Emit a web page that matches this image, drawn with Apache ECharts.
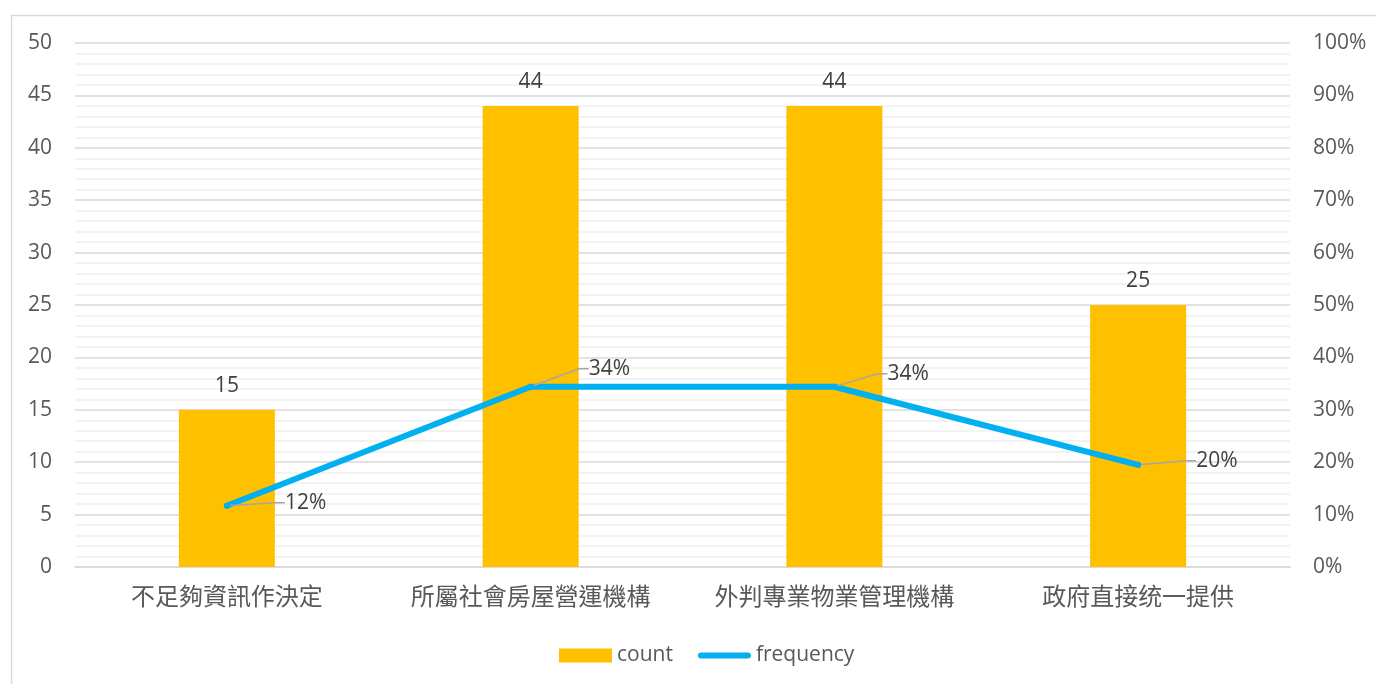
<!DOCTYPE html>
<html>
<head>
<meta charset="utf-8">
<script src="https://cdn.jsdelivr.net/npm/echarts@6/dist/echarts.min.js"></script>
<style>
html,body{margin:0;padding:0;background:#fff;}
#chart{width:1376px;height:684px;}
</style>
</head>
<body>
<div id="chart"></div>
<script>
const categories = ['不足夠資訊作決定', '所屬社會房屋營運機構', '外判專業物業管理機構', '政府直接统一提供'];
const countValues = [15, 44, 44, 25];
const frequencyValues = [0.117, 0.344, 0.344, 0.195];
const seriesNames = ['count', 'frequency'];

const FONT = "'Open Sans', 'Noto Sans CJK TC', sans-serif";
const TXT = '#595959';
const labelDx = [50, 50, 45, 50];
const labelDy = [-3, -18, -13, -4];

const chart = echarts.init(document.getElementById('chart'));
chart.setOption({
  animation: false,
  textStyle: { fontFamily: FONT },
  graphic: [{
    type: 'rect', left: 9, top: 13,
    shape: { width: 1420, height: 720 },
    style: { fill: 'none', stroke: '#d9d9d9', lineWidth: 1.5 },
    silent: true
  }],
  grid: { left: 75, right: 86, top: 43, bottom: 117 },
  legend: {
    top: 640, left: 554,
    itemGap: 25,
    itemWidth: 53, itemHeight: 14,
    textStyle: { color: TXT, fontSize: 21, fontFamily: FONT },
    data: [
      { name: seriesNames[0], icon: 'rect' },
      { name: seriesNames[1], icon: 'path://M3,0 H50 A3,3 0 0 1 50,6 H3 A3,3 0 0 1 3,0 Z', itemStyle: { color: '#00B0F0' } }
    ]
  },
  xAxis: {
    type: 'category',
    data: categories,
    axisLine: { lineStyle: { color: '#d9d9d9', width: 1.5 } },
    axisTick: { show: false },
    axisLabel: { color: TXT, fontSize: 24, margin: 19, fontFamily: FONT, interval: 0 }
  },
  yAxis: [{
    type: 'value', min: 0, max: 50, interval: 5,
    axisLine: { show: false }, axisTick: { show: false },
    axisLabel: { color: TXT, fontSize: 21, margin: 23, fontFamily: FONT },
    splitLine: { lineStyle: { color: '#d9d9d9', width: 1.5 } },
    minorTick: { show: false, splitNumber: 5 },
    minorSplitLine: { show: true, lineStyle: { color: '#f0f0f0', width: 1.5 } }
  }, {
    type: 'value', min: 0, max: 1, interval: 0.1,
    axisLine: { show: false }, axisTick: { show: false },
    splitLine: { show: false },
    axisLabel: { color: TXT, fontSize: 21, margin: 23, fontFamily: FONT,
      formatter: v => Math.round(v * 100) + '%' }
  }],
  series: [{
    name: seriesNames[0],
    type: 'bar',
    data: countValues,
    barWidth: '31.6%',
    itemStyle: { color: '#FFC000' },
    label: { show: true, position: 'top', distance: 13, color: '#404040', fontSize: 21, fontFamily: FONT }
  }, {
    name: seriesNames[1],
    type: 'line',
    yAxisIndex: 1,
    data: frequencyValues,
    symbol: 'circle', symbolSize: 6,
    itemStyle: { color: '#00B0F0' },
    lineStyle: { color: '#00B0F0', width: 6, cap: 'round' },
    label: {
      show: true, position: 'right', distance: 5,
      color: '#404040', fontSize: 21, fontFamily: FONT,
      formatter: p => Math.round(p.value * 100) + '%'
    },
    labelLine: { show: true, length2: 10, lineStyle: { color: '#a6a6a6', width: 1.5 } },
    labelLayout: p => ({ dx: labelDx[p.dataIndex], dy: labelDy[p.dataIndex] })
  }]
});
</script>
</body>
</html>
